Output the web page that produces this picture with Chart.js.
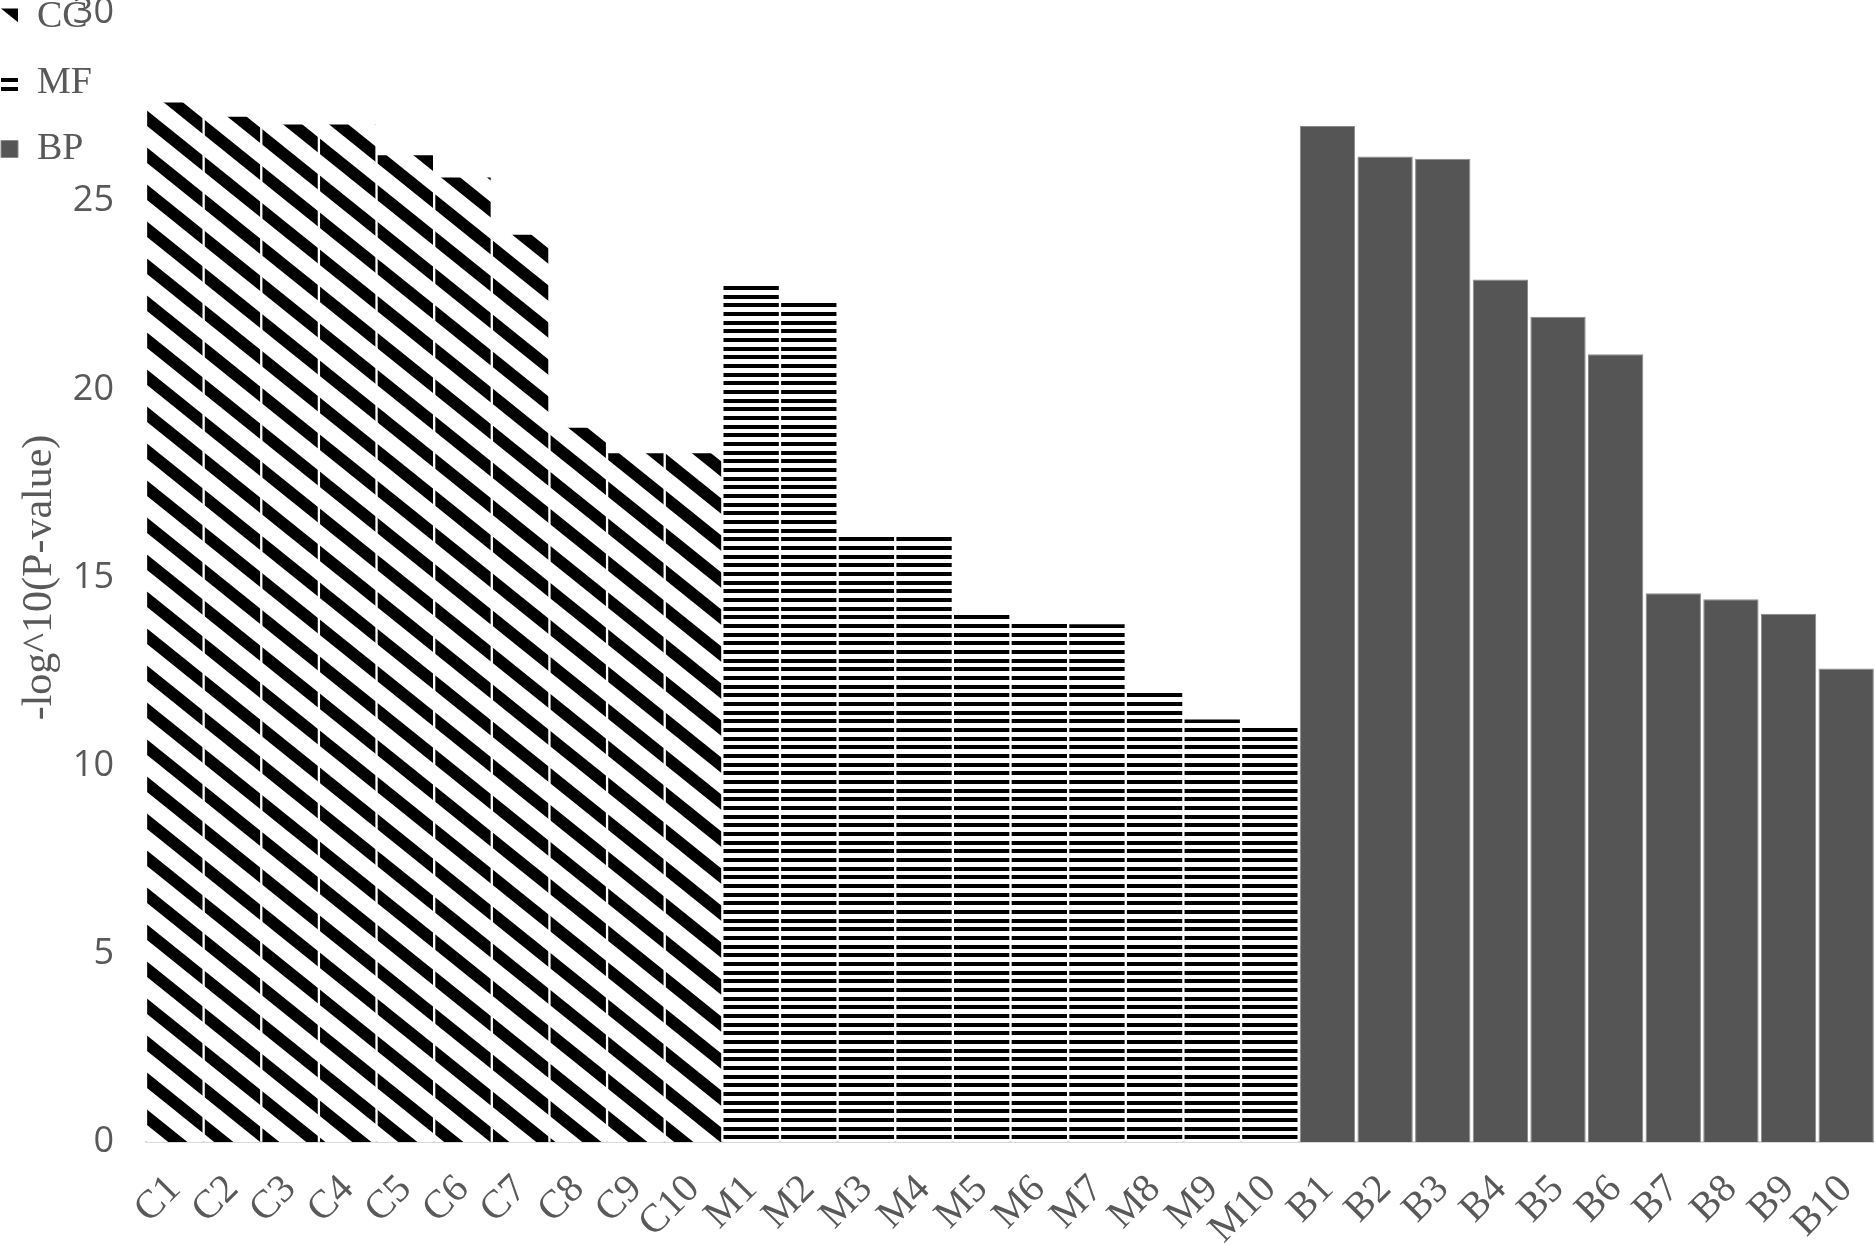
<!DOCTYPE html>
<html>
<head>
<meta charset="utf-8">
<script src="https://cdn.jsdelivr.net/npm/chart.js@4.4.0/dist/chart.umd.min.js"></script>
<style>
  html, body { margin: 0; padding: 0; background: #fff; }
  #wrap { width: 1875px; height: 1245px; position: relative; }
</style>
</head>
<body>
<div id="wrap"><canvas id="chart"></canvas></div>
<script>
// GO term enrichment: CC / MF / BP, top 10 terms each
const ccLabels = ['C1', 'C2', 'C3', 'C4', 'C5', 'C6', 'C7', 'C8', 'C9', 'C10'];
const mfLabels = ['M1', 'M2', 'M3', 'M4', 'M5', 'M6', 'M7', 'M8', 'M9', 'M10'];
const bpLabels = ['B1', 'B2', 'B3', 'B4', 'B5', 'B6', 'B7', 'B8', 'B9', 'B10'];

const ccValues = [27.62, 27.24, 27.04, 27.04, 26.22, 25.63, 24.11, 18.98, 18.30, 18.30];
const mfValues = [22.83, 22.37, 16.14, 16.08, 14.07, 13.77, 13.76, 11.96, 11.23, 11.05];
const bpValues = [27.00, 26.19, 26.13, 22.92, 21.93, 20.93, 14.58, 14.42, 14.04, 12.58];

const seriesNames = ['CC', 'MF', 'BP'];
const yMin = 0, yMax = 30, yStep = 5;
const yTitle = '-log^10(P-value)';

const TEXT = '#595959';
const SERIF = '"Liberation Serif", "Times New Roman", serif';

const canvas = document.getElementById('chart');
const ctx = canvas.getContext('2d');

// diagonal stripes (top-left to bottom-right)
function stripePattern() {
  const w = 46, h = 37;
  const t = document.createElement('canvas');
  t.width = w; t.height = h;
  const c = t.getContext('2d');
  c.fillStyle = '#fff';
  c.fillRect(0, 0, w, h);
  c.strokeStyle = '#000';
  c.lineWidth = 12;
  for (let k = -2; k <= 2; k++) {
    c.beginPath();
    c.moveTo(-w, (k - 1) * h);
    c.lineTo(2 * w, (k + 2) * h);
    c.stroke();
  }
  return ctx.createPattern(t, 'repeat');
}

// horizontal lines
function linePattern() {
  const t = document.createElement('canvas');
  t.width = 4; t.height = 26;
  const c = t.getContext('2d');
  c.fillStyle = '#fff';
  c.fillRect(0, 0, 4, 26);
  c.fillStyle = '#000';
  [0, 9, 17].forEach(y => c.fillRect(0, y, 4, 4));
  return ctx.createPattern(t, 'repeat');
}

const toPoints = (labels, values) => labels.map((l, i) => ({ x: l, y: values[i] }));

// legend sits in the top-left corner, over the axis margin
const legendMover = {
  id: 'legendMover',
  afterLayout(chart) {
    const lg = chart.legend;
    if (!lg) return;
    lg.left = -27;
    lg.top = -30;
    lg.right = lg.left + 300;
    lg.bottom = lg.top + 400;
  }
};

new Chart(ctx, {
  type: 'bar',
  data: {
    labels: [...ccLabels, ...mfLabels, ...bpLabels],
    datasets: [
      { label: seriesNames[0], data: toPoints(ccLabels, ccValues), backgroundColor: stripePattern(), borderWidth: 0 },
      { label: seriesNames[1], data: toPoints(mfLabels, mfValues), backgroundColor: linePattern(), borderWidth: 0 },
      { label: seriesNames[2], data: toPoints(bpLabels, bpValues), backgroundColor: '#555555', borderColor: '#8a8a8a', borderWidth: 1 }
    ]
  },
  options: {
    responsive: true,
    maintainAspectRatio: false,
    animation: false,
    layout: { padding: { left: 0, right: 0, top: 0, bottom: 0 } },
    datasets: { bar: { categoryPercentage: 1, barPercentage: 0.96 } },
    plugins: {
      tooltip: { enabled: false },
      legend: {
        position: 'chartArea',
        fullSize: false,
        align: 'start',
        labels: {
          boxWidth: 17,
          boxHeight: 17,
          padding: 28,
          color: TEXT,
          font: { family: SERIF, size: 38 }
        }
      }
    },
    scales: {
      x: {
        stacked: true,
        grid: { display: false },
        border: { display: true, color: '#d9d9d9', width: 2 },
        afterFit: (s) => { s.height = 103; s.paddingRight = 0; },
        ticks: {
          autoSkip: false,
          minRotation: 45,
          maxRotation: 45,
          padding: 16,
          color: TEXT,
          font: { family: SERIF, size: 40 }
        }
      },
      y: {
        stacked: true,
        min: yMin,
        max: yMax,
        grid: { display: false },
        border: { display: false },
        afterFit: (s) => { s.width = 146; s.paddingTop = 13; },
        ticks: {
          stepSize: yStep,
          padding: 24,
          color: TEXT,
          font: { family: '"Open Sans", sans-serif', size: 36, lineHeight: 0.8 }
        },
        title: {
          display: true,
          text: yTitle,
          color: TEXT,
          font: { family: SERIF, size: 42 },
          padding: { top: 15, bottom: 9 }
        }
      }
    }
  },
  plugins: [legendMover]
});
</script>
</body>
</html>
